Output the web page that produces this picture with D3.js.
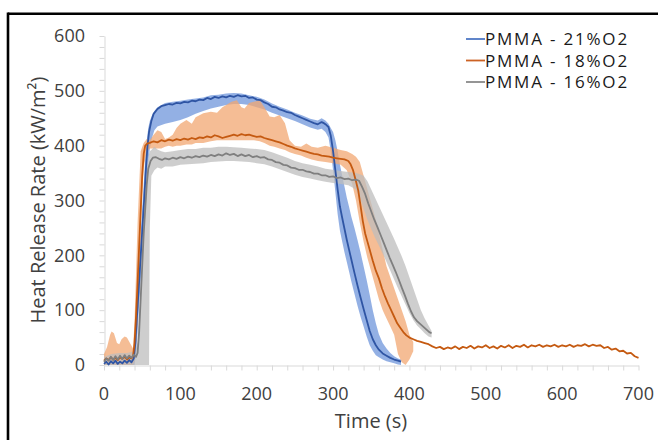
<!DOCTYPE html>
<html>
<head>
<meta charset="utf-8">
<script src="https://cdn.jsdelivr.net/npm/d3@7"></script>
<style>
  body { margin: 0; background: #fff; }
  svg text { font-family: "Open Sans", "Noto Sans", sans-serif; fill: #404040; }
</style>
</head>
<body>
<script>
// series names for the legend
var seriesNames = ["PMMA - 21%O2", "PMMA - 18%O2", "PMMA - 16%O2"];
var xTicks = [0, 100, 200, 300, 400, 500, 600, 700];
var yTicks = [0, 100, 200, 300, 400, 500, 600];

// mean curves, [time s, HRR kW/m2]
var pmma21 = [[0,2],[3,6],[6,1],[9,7],[12,3],[15,8],[18,2],[21,6],[24,3],[27,8],[30,4],[33,9],[36,5],[39,12],
  [41,40],[43,85],[45,130],[47,175],[49,220],[51,265],[53,310],[55,360],[57,400],[59,425],[62,445],[65,458],
  [70,467],[75,472],[80,474],[85,476],[90,475],[95,478],[100,477],[105,480],[110,479],[115,482],[120,481],
  [125,484],[130,483],[135,487],[140,485],[145,489],[150,487],[155,490],[160,488],[165,491],[170,489],[175,492],
  [180,490],[185,491],[190,487],[195,488],[200,484],[205,483],[210,479],[215,476],[220,471],[225,470],[230,466],
  [235,464],[240,461],[245,460],[250,456],[255,453],[260,450],[265,447],[270,444],[275,441],[280,439],[285,443],
  [288,441],[291,438],[294,434],[297,418],[300,390],[303,355],[306,320],[309,289],[312,268],[315,248],[318,228],
  [321,210],[324,192],[328,168],[332,145],[336,123],[340,102],[344,82],[348,62],[352,47],[356,36],[360,28],
  [365,21],[370,17],[375,13],[380,10],[385,8],[389,6]];

var pmma18 = [[0,8],[3,12],[6,9],[9,14],[12,10],[15,13],[18,9],[21,14],[24,11],[27,15],[30,10],[33,14],[36,12],
  [38,16],[40,40],[42,90],[44,150],[46,215],[48,280],[50,345],[52,385],[54,400],[57,404],[60,405],[65,408],
  [70,406],[75,410],[80,408],[85,411],[90,409],[95,412],[100,410],[105,413],[110,411],[115,414],[120,412],
  [125,415],[130,414],[135,417],[140,415],[145,419],[150,417],[155,414],[160,416],[165,418],[170,420],[175,418],
  [180,421],[185,419],[190,420],[195,418],[200,416],[205,417],[210,414],[215,412],[220,410],[225,408],[230,406],
  [235,403],[240,400],[245,398],[250,395],[255,393],[260,391],[265,389],[270,387],[275,385],[280,384],[285,382],
  [290,381],[295,380],[300,378],[305,377],[310,376],[315,375],[320,372],[323,366],[326,356],[330,335],[333,318],
  [336,290],[339,262],[342,240],[345,225],[348,210],[352,190],[356,172],[360,158],[364,140],[368,125],[372,112],
  [376,100],[380,88],[384,76],[388,68],[392,60],[396,54],[400,50],[405,47],[410,44],[415,42],[420,40],[425,38],
  [430,34],[435,31],[440,33],[445,29],[450,32],[455,30],[460,34],[465,29],[470,33],[475,31],[480,35],[485,30],
  [490,34],[495,32],[500,36],[505,31],[510,34],[515,30],[520,35],[525,32],[530,36],[535,31],[540,35],[545,33],
  [550,37],[555,32],[560,36],[565,34],[570,37],[575,33],[580,36],[585,34],[590,37],[595,33],[600,36],[605,34],
  [610,37],[615,33],[620,36],[625,35],[630,38],[635,34],[640,37],[645,35],[650,36],[655,31],[660,33],[665,28],
  [670,30],[675,25],[680,26],[685,21],[690,22],[695,16],[700,13]];

var pmma16 = [[0,6],[3,12],[6,8],[9,15],[12,9],[15,16],[18,10],[21,17],[24,11],[27,18],[30,12],[33,17],[36,13],
  [39,19],[42,15],[44,22],[46,60],[48,120],[50,180],[52,240],[54,285],[56,330],[58,358],[61,372],[64,378],
  [68,379],[72,376],[76,374],[80,377],[85,375],[90,378],[95,376],[100,379],[105,377],[110,380],[115,378],
  [120,381],[125,379],[130,382],[135,380],[140,383],[145,381],[150,384],[155,382],[160,386],[165,383],[170,385],
  [175,381],[180,384],[185,381],[190,383],[195,379],[200,381],[205,378],[210,379],[215,375],[220,374],[225,370],
  [230,369],[235,365],[240,364],[245,360],[250,359],[255,356],[260,356],[265,353],[270,352],[275,349],[280,349],
  [285,346],[290,346],[295,343],[300,344],[305,341],[310,342],[315,339],[320,340],[325,337],[330,338],[334,336],
  [338,325],[342,312],[346,295],[350,280],[354,265],[358,252],[362,238],[366,224],[370,210],[374,196],[378,183],
  [382,170],[386,156],[390,141],[394,127],[398,112],[402,98],[406,87],[410,80],[414,75],[418,70],[422,65],
  [426,60],[429,58]];

// spread between repeats, [time s, low, high]
var band21 = [[0,0,10],[38,0,15],[40,0,40],[42,20,90],[44,60,140],[46,110,190],[48,150,240],[50,200,285],
  [52,245,330],[54,290,375],[56,330,410],[58,370,432],[60,395,445],[63,415,456],[66,428,463],[70,435,470],
  [80,440,478],[90,443,480],[100,447,482],[110,452,484],[120,458,486],[130,463,488],[140,468,492],[150,471,493],
  [160,474,495],[170,476,496],[180,476,495],[190,474,492],[200,470,489],[210,466,484],[220,460,477],[230,455,471],
  [240,450,466],[250,445,460],[260,439,455],[270,433,449],[280,429,446],[285,431,450],[290,425,446],[294,415,440],
  [297,390,432],[300,355,425],[303,315,410],[306,275,390],[309,245,365],[312,225,345],[315,205,325],[318,188,305],
  [321,170,288],[324,152,270],[328,130,250],[332,108,228],[336,88,205],[340,70,180],[344,52,155],[348,36,128],
  [352,26,100],[356,18,76],[360,14,56],[365,10,40],[370,7,30],[375,5,22],[380,3,16],[385,1,12],[389,0,10]];

var band18 = [[0,0,20],[4,0,33],[8,0,55],[10,0,61],[13,0,58],[17,0,40],[20,0,38],[23,0,47],[27,0,52],[30,0,50],
  [34,0,40],[38,0,30],[40,5,80],[44,80,260],[48,250,390],[52,360,405],[56,390,412],[60,395,410],[65,395,420],
  [70,395,428],[75,395,425],[80,398,412],[85,400,415],[90,398,420],[95,400,432],[100,400,440],[108,402,447],
  [115,402,440],[120,405,452],[130,405,459],[140,408,462],[148,410,460],[155,410,470],[160,410,474],[167,410,480],
  [174,410,483],[180,410,470],[184,410,468],[190,410,478],[196,410,480],[204,408,483],[210,405,470],[217,400,453],
  [223,398,452],[230,395,456],[237,392,441],[243,388,410],[250,385,400],[258,382,398],[265,378,404],[272,375,398],
  [280,372,396],[290,370,400],[300,368,396],[310,365,392],[318,355,390],[325,330,385],[330,300,380],[335,260,370],
  [340,225,345],[345,195,320],[350,170,295],[355,145,270],[360,120,240],[365,100,210],[370,85,180],[375,70,160],
  [380,55,140],[385,20,120],[390,5,100],[395,0,80],[400,10,55],[405,25,42]];

var band16 = [[0,0,15],[10,0,20],[20,0,22],[30,0,22],[40,0,25],[44,0,40],[47,0,120],[50,0,220],[53,0,300],
  [56,0,360],[59,0,385],[60,250,390],[62,345,392],[66,355,398],[70,360,393],[75,358,390],[80,362,388],
  [90,362,390],[100,365,392],[110,366,394],[120,367,394],[130,368,396],[140,370,396],[150,371,398],[160,372,398],
  [170,372,397],[180,371,396],[190,370,395],[200,368,394],[210,366,392],[220,362,388],[230,357,383],[240,352,378],
  [250,347,372],[260,343,368],[270,340,365],[280,337,362],[290,334,358],[300,332,356],[310,330,354],[320,328,352],
  [330,320,350],[335,305,348],[340,285,345],[345,265,335],[350,248,320],[355,232,305],[360,218,290],[365,203,275],
  [370,188,260],[375,172,245],[380,156,230],[385,140,214],[390,125,198],[395,110,180],[400,95,160],[405,82,140],
  [410,72,120],[415,65,100],[420,58,85],[425,52,72],[429,50,62]];

var lineColors = ["#2f55a4", "#c55a11", "#7f7f7f"];
var legendColors = ["#4f78c4", "#cc6224", "#8a8a8a"];
var bandColors = ["#6f96db", "#f2a772", "#bdbdbd"];

var W = 658, H = 440;
var svg = d3.select("body").append("svg").attr("width", W).attr("height", H);

// frame (only top and left edges show in the picture)
svg.append("line").attr("x1", 8).attr("y1", 13.7).attr("x2", W).attr("y2", 13.7)
   .attr("stroke", "#000").attr("stroke-width", 2.6);
svg.append("line").attr("x1", 8).attr("y1", 12.4).attr("x2", 8).attr("y2", H)
   .attr("stroke", "#000").attr("stroke-width", 2.6);

var x = d3.scaleLinear().domain([0, 700]).range([104, 638.5]);
var y = d3.scaleLinear().domain([0, 600]).range([365, 36]);

var minorX = d3.range(0, 701, 20);
var minorY = d3.range(0, 601, 20);

// axes: light grey lines with short outward ticks
var gx = svg.append("g").attr("transform", "translate(0,365.5)")
  .call(d3.axisBottom(x).tickValues(minorX).tickSize(5).tickSizeOuter(0).tickFormat(""));
var gy = svg.append("g").attr("transform", "translate(104.5,0)")
  .call(d3.axisLeft(y).tickValues(minorY).tickSize(5).tickSizeOuter(0).tickFormat(""));
svg.selectAll(".domain, .tick line").attr("stroke", "#d9d9d9");

svg.selectAll(".xlab").data(xTicks).enter().append("text")
  .attr("x", d => x(d)).attr("y", 400)
  .attr("text-anchor", "middle").attr("font-size", 18).text(d => d);
svg.selectAll(".ylab").data(yTicks).enter().append("text")
  .attr("x", 85).attr("y", d => y(d)).attr("dy", "0.35em")
  .attr("text-anchor", "end").attr("font-size", 18).text(d => d);

svg.append("text").attr("x", 371).attr("y", 428).attr("text-anchor", "middle")
  .attr("font-size", 20).text("Time (s)");
svg.append("text").attr("transform", "translate(45,200) rotate(-90)")
  .attr("text-anchor", "middle").attr("font-size", 20)
  .text("Heat Release Rate (kW/m\u00B2)");

var area = d3.area().x(d => x(d[0])).y0(d => y(d[1])).y1(d => y(d[2]));
var line = d3.line().x(d => x(d[0])).y(d => y(d[1]));

var bands = [band21, band18, band16];
var curves = [pmma21, pmma18, pmma16];

svg.selectAll(".band").data(bands).enter().append("path")
  .attr("d", area).attr("fill", (d, i) => bandColors[i]).attr("fill-opacity", 0.75);

svg.selectAll(".curve").data(curves).enter().append("path")
  .attr("d", line).attr("fill", "none")
  .attr("stroke", (d, i) => lineColors[i]).attr("stroke-width", 1.8)
  .attr("stroke-linejoin", "round");

// legend
var leg = svg.selectAll(".leg").data(seriesNames).enter().append("g")
  .attr("transform", (d, i) => "translate(466," + (39 + i * 21.5) + ")");
leg.append("line").attr("x1", 0).attr("x2", 19).attr("y1", 0).attr("y2", 0)
  .attr("stroke", (d, i) => legendColors[i]).attr("stroke-width", 1.8);
leg.append("text").attr("x", 19).attr("dy", "0.36em").attr("font-size", 17)
  .attr("letter-spacing", 1.8)
  .style("fill", "#1a1a1a").text(d => d);
</script>
</body>
</html>
